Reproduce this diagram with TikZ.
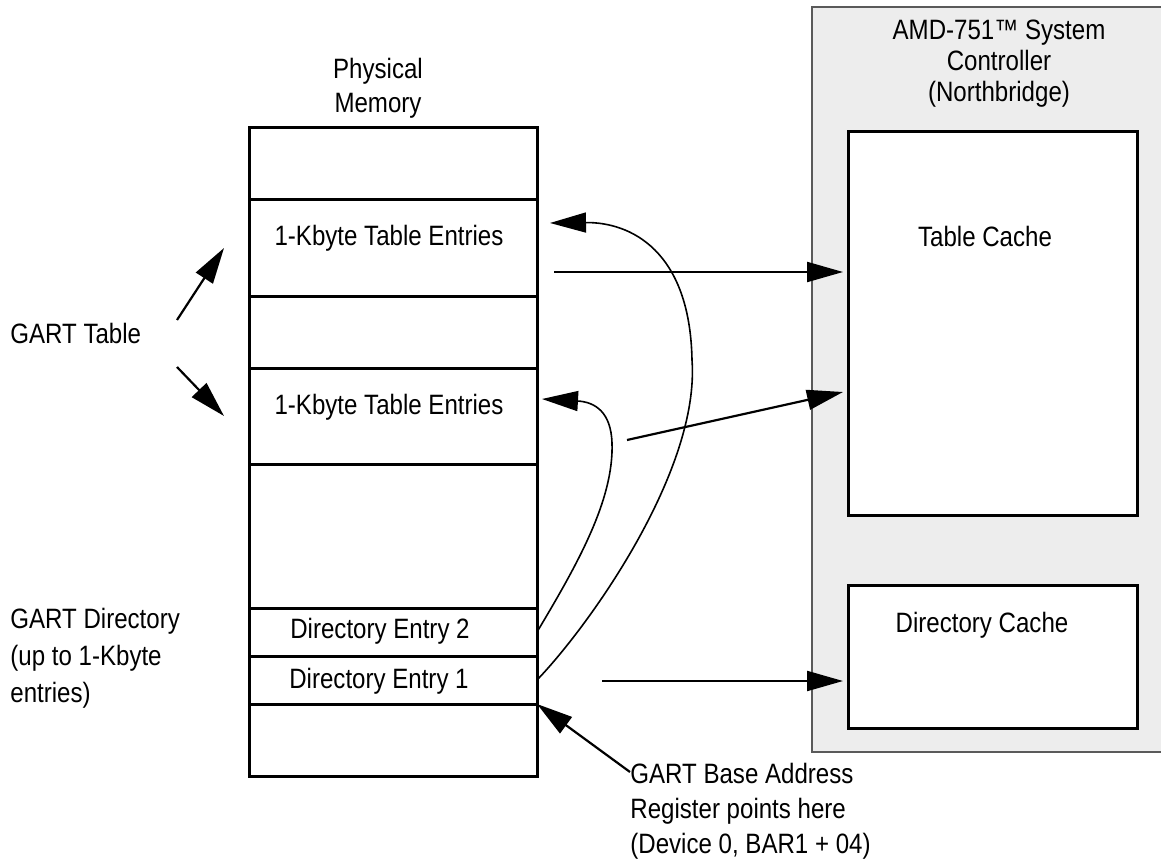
\documentclass[tikz,border=0pt]{standalone}
\usepackage{fontspec}
\setmainfont{Liberation Sans}[FakeStretch=0.86]
\usepackage{xcolor}
\usetikzlibrary{arrows.meta}
\definecolor{ctrlfill}{HTML}{EDEDED}
\definecolor{ctrlline}{HTML}{5A5A5A}

\begin{document}
\begin{tikzpicture}[x=0.5pt,y=-0.5pt,
  font=\fontsize{14}{17}\selectfont,
  cell/.style={draw,line width=1.5pt,minimum width=144pt,minimum height=#1,inner sep=0pt,outer sep=0pt},
  cache/.style={draw,fill=white,line width=1.5pt,minimum width=144.5pt,minimum height=#1,inner sep=0pt,outer sep=0pt},
  txt/.style={inner sep=0pt},
  arr/.style={-{Triangle[length=18pt,width=10pt]},line width=1.1pt},
  link/.style={-{Triangle[length=18pt,width=10pt]},line width=0.8pt}
  ]
\clip (0,0) rectangle (1161,861);
\fill[white] (0,0) rectangle (1161,861);
% system controller
\fill[ctrlfill] (812,7) rectangle (1175,752);
\draw[ctrlline,line width=1.1pt] (1175,7) -- (812,7) -- (812,752) -- (1175,752);
\node[txt,align=center,font=\fontsize{14}{15.5}\selectfont] (nb) at (999,64) {AMD-751™ System\\Controller\\(Northbridge)};
\node[cache=191.5pt] (tc) at (992.5,323.5) {};   % table cache
\node[cache=71.5pt] (dc) at (992.5,656.5) {};     % directory cache
\node[txt] at (985,236) {Table Cache};
\node[txt] at (982,625) {Directory Cache};
% physical memory
\node[txt,align=center] (pm) at (378,88) {Physical\\Memory};
\node[cell=36pt] (m1) at (393,164) {};
\node[cell=48pt] (te1) at (393,248) {};   % first table entries
\node[cell=36pt] (m3) at (393,332) {};
\node[cell=48pt] (te2) at (393,416) {};   % second table entries
\node[cell=72pt] (m5) at (393,536) {};
\node[cell=24pt] (de2) at (393,632) {};   % directory entry 2
\node[cell=24pt] (de1) at (393,680) {};   % directory entry 1
\node[cell=36pt] (m8) at (393,740) {};
\node[txt] at (389,238) {1-Kbyte Table Entries};
\node[txt] at (389,407) {1-Kbyte Table Entries};
\node[txt] at (380,631.5) {Directory Entry 2};
\node[txt] at (379,681.5) {Directory Entry 1};
% labels on the left and below
\node[txt,anchor=west] (gt) at (10,333) {GART Table};
\node[txt,anchor=north west,align=left,font=\fontsize{14}{18.5}\selectfont] (gd) at (10,608) {GART Directory\\(up to 1-Kbyte\\entries)};
\node[txt,anchor=north west,align=left,font=\fontsize{14}{17.5}\selectfont] (gba) at (630,763) {GART Base Address\\Register points here\\(Device 0, BAR1 + 04)};
\coordinate (gtu) at (177,320);
\coordinate (gtd) at (177,367);
\coordinate (tcs1) at (554,272);
\coordinate (tcs2) at (627,440);
\coordinate (dcs) at (602,681);
\draw[arr] (gtu) -- ([xshift=-12.5pt]te1.west);
\draw[arr] (gtd) -- ([xshift=-12.5pt]te2.west);
\draw[arr,shorten >=2.5pt] (tcs1) -- (tcs1 -| tc.west);
\draw[arr] (tcs2) -- ([xshift=-2.5pt,yshift=-34.25pt]tc.west);
\draw[arr,shorten >=2.5pt] (dcs) -- (dcs -| dc.west);
\draw[arr] ([yshift=-4.5pt]gba.north west) -- (de1.south east);
% directory entries point to table entries
\draw[link] (de2.east) .. controls (577,565) and (614,500) .. (612,443)
  .. controls (611,412) and (595,402) .. ([xshift=2.5pt,yshift=8.5pt]te2.east);
\draw[link] (de1.east) .. controls (590,625) and (700,470) .. (692,360)
  .. controls (690,250) and (630,222) .. ([xshift=6.5pt,yshift=12.5pt]te1.east);
\end{tikzpicture}
\end{document}
